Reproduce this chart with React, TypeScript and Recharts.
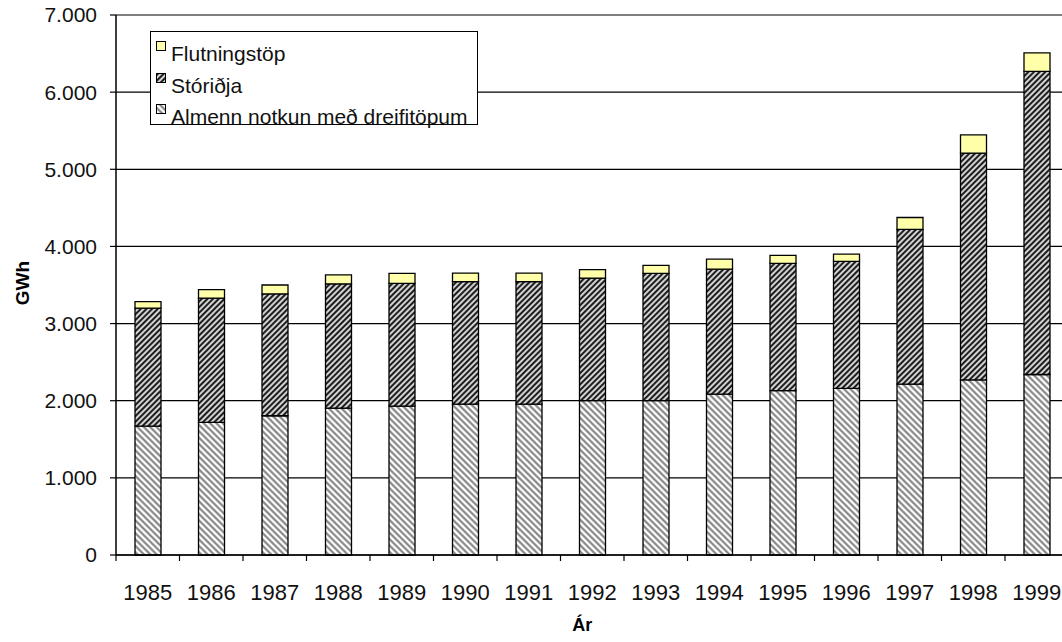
import React from "react";
import {
  Bar,
  BarChart,
  CartesianGrid,
  Legend,
  XAxis,
  YAxis,
} from "recharts";

// Raforkunotkun 1985-1999, GWh (lesið af mynd)
const years = [
  "1985", "1986", "1987", "1988", "1989", "1990", "1991", "1992",
  "1993", "1994", "1995", "1996", "1997", "1998", "1999",
];
const almenn = [1670, 1720, 1805, 1905, 1930, 1955, 1955, 2000, 2000, 2085, 2130, 2160, 2215, 2270, 2340];
const storidja = [1530, 1610, 1580, 1610, 1590, 1590, 1590, 1590, 1650, 1620, 1650, 1645, 2005, 2940, 3930];
const flutningstop = [85, 110, 115, 115, 130, 110, 110, 110, 105, 130, 105, 95, 155, 235, 240];
const yTicks = [0, 1000, 2000, 3000, 4000, 5000, 6000, 7000];
const legendOrder = ["flutningstop", "storidja", "almenn"];

const FONT = '"Liberation Sans", Arial, sans-serif';

const fills: Record<string, string> = {
  almenn: "url(#hatchLight)",
  storidja: "url(#hatchDark)",
  flutningstop: "#FFFFAA",
};

const data = years.map((ar, i) => ({
  ar,
  almenn: almenn[i],
  storidja: storidja[i],
  flutningstop: flutningstop[i],
}));

const fmt = (v: number) => String(v).replace(/\B(?=(\d{3})+(?!\d))/g, ".");

const TICK_SIZE = 6;
const TICK_MARGIN = 23;

function YearTick(props: any) {
  const { x, y, payload, index, visibleTicksCount } = props;
  const half = payload?.offset ?? 31.75;
  const axisY = y - TICK_SIZE - TICK_MARGIN;
  const last = index === (visibleTicksCount ?? years.length) - 1;
  return (
    <g>
      <line x1={x - half} x2={x - half} y1={axisY} y2={axisY + TICK_SIZE} stroke="#000" strokeWidth={1.2} />
      {last && (
        <line x1={x + half} x2={x + half} y1={axisY} y2={axisY + TICK_SIZE} stroke="#000" strokeWidth={1.2} />
      )}
      <text x={x} y={y} dy="0.71em" textAnchor="middle" fontSize={22} fontFamily={FONT} fill="#111">
        {payload.value}
      </text>
    </g>
  );
}

function LegendBox({ payload }: any) {
  const byKey: Record<string, any> = {};
  (payload || []).forEach((p: any) => (byKey[p.dataKey] = p));
  const items = legendOrder.map((k) => byKey[k]).filter(Boolean);
  return (
    <div
      style={{
        boxSizing: "border-box",
        width: 328,
        height: 94,
        border: "1.5px solid #000",
        background: "#fff",
        paddingTop: 6,
        fontFamily: FONT,
        fontSize: 21,
        color: "#111",
        overflow: "visible",
      }}
    >
      {items.map((it: any) => (
        <div key={it.dataKey} style={{ position: "relative", height: 31.5, lineHeight: "31.5px", whiteSpace: "nowrap" }}>
          <svg width={10} height={10} style={{ position: "absolute", left: 5, top: 3 }}>
            <rect x={0.5} y={0.5} width={9} height={9} fill={fills[it.dataKey]} stroke="#000" strokeWidth={1} />
          </svg>
          <span style={{ position: "absolute", left: 20 }}>{it.value}</span>
        </div>
      ))}
    </div>
  );
}

export default function App() {
  return (
    <div style={{ position: "absolute", left: 0, top: 0, width: 1062, height: 642, overflow: "hidden", background: "#fff" }}>
      <BarChart
        width={1080}
        height={642}
        data={data}
        margin={{ top: 15, right: 11.5, left: 0, bottom: 0 }}
        barSize={26}
      >
        <defs>
          <pattern id="hatchLight" width={4.5} height={4.5} patternUnits="userSpaceOnUse" patternTransform="rotate(-45)">
            <rect width={4.5} height={4.5} fill="#fff" />
            <line x1={2.25} y1={0} x2={2.25} y2={4.5} stroke="#7a7a7a" strokeWidth={2} />
          </pattern>
          <pattern id="hatchDark" width={4} height={4} patternUnits="userSpaceOnUse" patternTransform="rotate(45)">
            <rect width={4} height={4} fill="#fff" />
            <line x1={2} y1={0} x2={2} y2={4} stroke="#1e1e1e" strokeWidth={2.4} />
          </pattern>
        </defs>
        <CartesianGrid vertical={false} stroke="#000" strokeWidth={1.2} />
        <XAxis
          dataKey="ar"
          height={87}
          axisLine={{ stroke: "#000", strokeWidth: 1.5 }}
          tickLine={false}
          tickSize={TICK_SIZE}
          tickMargin={TICK_MARGIN}
          tick={<YearTick />}
          interval={0}
          label={({ viewBox }: any) => (
            <text
              x={viewBox.x + viewBox.width / 2 - 10}
              y={631}
              textAnchor="middle"
              fontSize={18}
              fontWeight="bold"
              fontFamily={FONT}
              fill="#000"
            >
              Ár
            </text>
          )}
        />
        <YAxis
          width={116}
          domain={[0, 7000]}
          ticks={yTicks}
          interval={0}
          tickFormatter={fmt}
          axisLine={{ stroke: "#000", strokeWidth: 1.5 }}
          tickLine={{ stroke: "#000", strokeWidth: 1.2 }}
          tickSize={6}
          tickMargin={13}
          tick={{ fontSize: 21, fontFamily: FONT, fill: "#111" }}
          label={({ viewBox }: any) => {
            const cx = viewBox.x + 22;
            const cy = viewBox.y + viewBox.height / 2 - 2;
            return (
              <text
                x={cx}
                y={cy}
                transform={`rotate(-90 ${cx} ${cy})`}
                textAnchor="middle"
                dominantBaseline="central"
                fontSize={19}
                fontWeight="bold"
                fontFamily={FONT}
                fill="#000"
              >
                GWh
              </text>
            );
          }}
        />
        <Legend
          layout="vertical"
          align="center"
          verticalAlign="middle"
          content={<LegendBox />}
          wrapperStyle={{ left: 150, top: 31, width: 328, height: 94 }}
        />
        <Bar dataKey="almenn" name="Almenn notkun með dreifitöpum" stackId="a" fill={fills.almenn} stroke="#000" strokeWidth={1.3} isAnimationActive={false} />
        <Bar dataKey="storidja" name="Stóriðja" stackId="a" fill={fills.storidja} stroke="#000" strokeWidth={1.3} isAnimationActive={false} />
        <Bar dataKey="flutningstop" name="Flutningstöp" stackId="a" fill={fills.flutningstop} stroke="#000" strokeWidth={1.3} isAnimationActive={false} />
      </BarChart>
    </div>
  );
}
